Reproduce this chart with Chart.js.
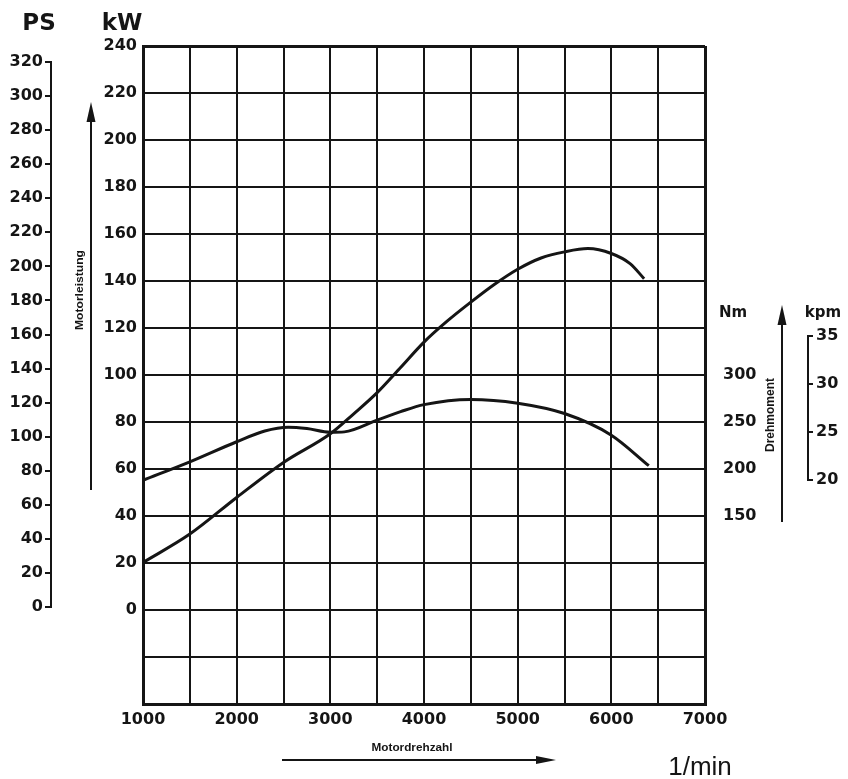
<!DOCTYPE html>
<html><head><meta charset="utf-8">
<script src="https://cdn.jsdelivr.net/npm/chart.js@4.4.1/dist/chart.umd.min.js"></script>
<style>html,body{margin:0;padding:0;background:#fff}#wrap{width:848px;height:779px}</style>
</head><body><div id="wrap"><canvas id="c" width="848" height="779"></canvas></div>
<script>
// ---- data ----
const powerRpm = [1000,1500,2000,2500,3000,3250,3500,3750,4000,4250,4500,4750,5000,5250,5500,5750,6000,6200,6350];
const powerKW  = [20.2,32.3,47.9,62.8,75,83.5,92.5,103.2,114,123,131,138.5,145,149.8,152.4,153.8,151.7,147.4,141];
const torqueRpm = [1000,1500,2000,2300,2550,2750,3000,3150,3500,3750,4000,4500,5000,5500,6000,6400];
const torqueNm  = [188,207.6,229,240.5,244.5,243,239,239.5,252,261,268.5,274,270,259,236,203.5];
const rpmLabels = [1000,2000,3000,4000,5000,6000,7000];
const kwLabels  = [0,20,40,60,80,100,120,140,160,180,200,220,240];
const psTicks   = [0,20,40,60,80,100,120,140,160,180,200,220,240,260,280,300,320];
const nmTicks   = [150,200,250,300];
const kpmTicks  = [20,25,30,35];

const INK = '#151515';
const numFont = {family:'DejaVu Sans', size:16, weight:'bold'};
Chart.defaults.font.family = 'DejaVu Sans';
Chart.defaults.color = INK;

function fitText(c, text, cx, cy, font, len, angle){
  c.save();
  c.font = font;
  const w = c.measureText(text).width;
  c.translate(cx, cy);
  c.rotate(angle);
  c.scale(len / w, 1);
  c.textAlign = 'center';
  c.textBaseline = 'middle';
  c.fillText(text, 0, 0);
  c.restore();
}

const extras = {
  id: 'extras',
  afterDraw(chart){
    const c = chart.ctx, s = chart.scales;
    c.save();
    c.strokeStyle = INK; c.fillStyle = INK; c.lineWidth = 2;
    // PS axis line
    const px = s.ps.right - 1;
    c.beginPath(); c.moveTo(px, s.ps.getPixelForValue(0) + 1); c.lineTo(px, s.ps.getPixelForValue(320) - 1); c.stroke();
    // kpm axis line
    const kx = s.kpm.left + 1;
    c.beginPath(); c.moveTo(kx, s.kpm.getPixelForValue(20) + 1); c.lineTo(kx, s.kpm.getPixelForValue(35) - 1); c.stroke();
    // arrows
    function arrowUp(x, y0, tip){
      c.beginPath(); c.moveTo(x, y0); c.lineTo(x, tip + 15); c.stroke();
      c.beginPath(); c.moveTo(x, tip); c.lineTo(x - 4.5, tip + 20); c.lineTo(x + 4.5, tip + 20); c.closePath(); c.fill();
    }
    arrowUp(91, 490, 102);
    arrowUp(782, 522, 305);
    c.beginPath(); c.moveTo(282, 760); c.lineTo(542, 760); c.stroke();
    c.beginPath(); c.moveTo(556, 760); c.lineTo(536, 756); c.lineTo(536, 764); c.closePath(); c.fill();
    // titles
    c.textAlign = 'center'; c.textBaseline = 'alphabetic';
    c.font = 'bold 23px "DejaVu Sans"';
    c.fillText('PS', 39, 30);
    c.fillText('kW', 122, 30);
    c.font = 'bold 15px "DejaVu Sans"';
    c.fillText('Nm', 733, 317);
    c.fillText('kpm', 823, 317);
    c.font = '26px "Liberation Sans"';
    c.fillText('1/min', 700, 775);
    fitText(c, 'Motorleistung', 80, 290, 'bold 11px "Liberation Sans"', 80, -Math.PI/2);
    fitText(c, 'Drehmoment', 771, 415, 'bold 12px "Liberation Sans"', 74, -Math.PI/2);
    fitText(c, 'Motordrehzahl', 412, 748, 'bold 11px "Liberation Sans"', 81, 0);
    c.restore();
  }
};

const edgeW = (ctx, lo, hi) => (ctx.tick && (ctx.tick.value === lo || ctx.tick.value === hi)) ? 3 : 2;

new Chart(document.getElementById('c'), {
  type: 'line',
  data: {
    datasets: [
      {label:'Motorleistung', data: powerRpm.map((r,i)=>({x:r, y:powerKW[i]})), yAxisID:'kw',
       borderColor: INK, borderWidth: 3, pointRadius: 0, cubicInterpolationMode:'monotone', fill:false},
      {label:'Drehmoment', data: torqueRpm.map((r,i)=>({x:r, y:torqueNm[i]})), yAxisID:'nm',
       borderColor: INK, borderWidth: 3, pointRadius: 0, cubicInterpolationMode:'monotone', fill:false}
    ]
  },
  options: {
    responsive: false, animation: false, devicePixelRatio: 1,
    layout: {padding: {top: 46, left: 0, right: 0, bottom: 0}},
    plugins: {legend: {display:false}, tooltip: {enabled:false}},
    scales: {
      x: {type:'linear', position:'bottom', min:1000, max:7000,
          ticks:{stepSize:500, autoSkip:false, maxRotation:0, font:numFont, padding:6,
                 callback: v => rpmLabels.includes(v) ? String(v) : ''},
          grid:{color:INK, lineWidth: ctx => edgeW(ctx, 1000, 7000), drawTicks:false},
          border:{color:INK, width:3},
          afterFit(sc){ sc.height = 75; }},
      kw: {type:'linear', position:'left', weight:0, min:-40, max:240,
          ticks:{stepSize:20, font:numFont, padding:6,
                 callback: v => kwLabels.includes(v) ? String(v) : ''},
          grid:{color:INK, lineWidth: ctx => edgeW(ctx, -40, 240), drawTicks:false},
          border:{color:INK, width:3},
          afterFit(sc){ sc.width = 91; }},
      ps: {type:'linear', position:'left', weight:1, min:-56.96, max:329.4,
          afterBuildTicks(sc){ sc.ticks = psTicks.map(v => ({value:v})); },
          ticks:{font:numFont, padding:2, callback: v => String(v)},
          grid:{drawOnChartArea:false, drawTicks:true, tickLength:7, color:INK, lineWidth:2},
          border:{display:false},
          afterFit(sc){ sc.width = 52; }},
      nm: {type:'linear', position:'right', weight:0, min:-50, max:650,
          afterBuildTicks(sc){ sc.ticks = nmTicks.map(v => ({value:v})); },
          ticks:{font:numFont, padding:10, callback: v => String(v)},
          grid:{display:false},
          border:{display:false},
          afterFit(sc){ sc.width = 102; }},
      kpm: {type:'linear', position:'right', weight:1, min:-3.33, max:65.21,
          afterBuildTicks(sc){ sc.ticks = kpmTicks.map(v => ({value:v})); },
          ticks:{font:numFont, padding:3, callback: v => String(v)},
          grid:{drawOnChartArea:false, drawTicks:true, tickLength:6, color:INK, lineWidth:2},
          border:{display:false},
          afterFit(sc){ sc.width = 41; }}
    }
  },
  plugins: [extras]
});
</script>
</body></html>
